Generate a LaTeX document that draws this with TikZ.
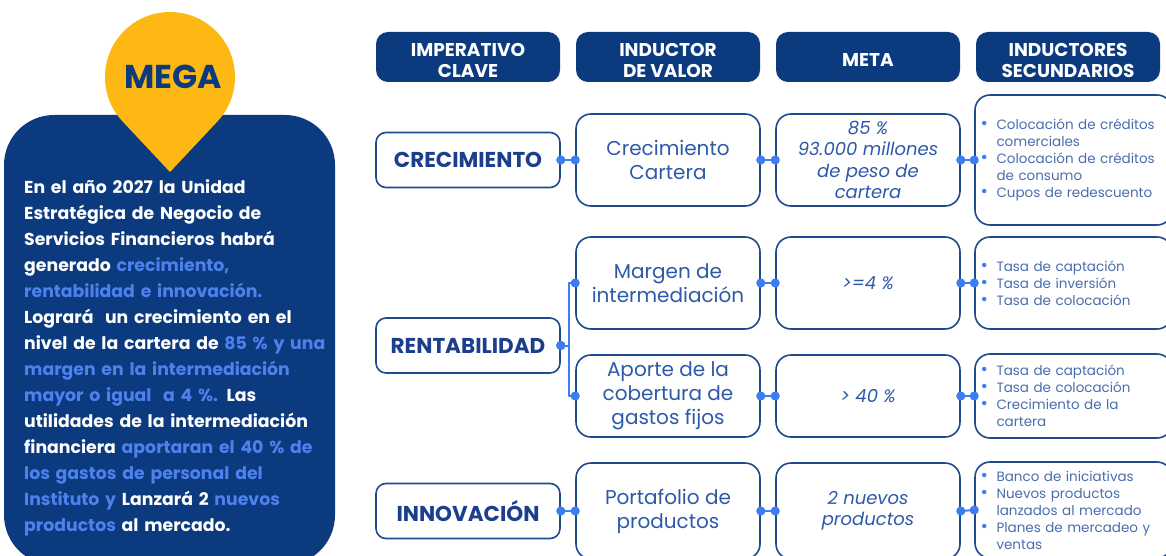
\documentclass[tikz,border=0pt]{standalone}
\usepackage{fontspec}
\setmainfont{Poppins}
\usetikzlibrary{arrows.meta,positioning,backgrounds}
\definecolor{megablue}{HTML}{0B3A7E}
\definecolor{megaedge}{HTML}{1F4A8C}
\definecolor{megatext}{HTML}{2D5AA8}
\definecolor{megabold}{HTML}{1B3F8C}
\definecolor{megadot}{HTML}{3C7DF2}
\definecolor{megalight}{HTML}{4F81EE}
\definecolor{megagrey}{HTML}{4A6DAF}
\definecolor{megagold}{HTML}{FDB813}
\newcommand{\hl}[1]{\textcolor{megalight}{#1}}
\newcommand{\bitem}[1]{\hangindent=16pt\hangafter=1\noindent
  \hbox to 16pt{\smash{\textcolor{megadot}{\fontsize{18}{17}\selectfont\textbullet}}\hss}#1\par}

\begin{document}
\begin{tikzpicture}[x=1pt,y=-1pt,line join=round,
  head/.style={fill=megablue,rounded corners=12pt,minimum width=184pt,minimum height=50pt},
  headtext/.style={text=white,align=center,font=\fontsize{18.5}{21.5}\selectfont\bfseries},
  keybox/.style={draw=megaedge,line width=1.6pt,rounded corners=10pt,fill=white,minimum width=184pt,
    minimum height=55pt,text=megabold,font=\fontsize{21.5}{24}\selectfont\bfseries},
  drvbox/.style={draw=megaedge,line width=1.6pt,rounded corners=15pt,minimum width=184pt,align=center,
    text=megatext,font=\fontsize{20}{24}\selectfont},
  goalbox/.style={drvbox,font=\fontsize{18}{21.5}\selectfont\itshape},
  secbox/.style={draw=megaedge,line width=1.6pt,rounded corners=15pt,text width=186pt,inner xsep=5.5pt,
    align=left,text=megagrey,font=\fontsize{13.5}{17}\selectfont},
  link/.style={megadot,line width=2pt,{Circle[length=9pt]}-{Circle[length=9pt]},
    shorten <=-4.5pt,shorten >=-4.5pt}]
\path[use as bounding box] (0,0) rectangle (1166,556);
\clip (0,0) rectangle (1166,556);
\fill[white] (0,0) rectangle (1166,556);

% mega
\fill[megablue,rounded corners=50pt] (4,115) rectangle (335,565);
\coordinate (pinc) at (170,77);
\coordinate (pint) at (170,172);
\fill[megagold] (pint) -- ([shift={(-43.2:65pt)}]pinc) arc[start angle=-43.2,end angle=223.2,radius=65pt] -- cycle;
\node[text=megablue,font=\fontsize{33}{33}\selectfont\bfseries] (mega) at (173,77) {MEGA};
\node[anchor=north west,inner sep=0pt,text width=320pt,align=left,text=white,
  font=\fontsize{17.3}{26}\selectfont\bfseries] (vision) at (24,179) {En el año 2027 la Unidad\\
  Estratégica de Negocio de\\
  Servicios Financieros habrá\\
  generado \hl{crecimiento,}\\
  \hl{rentabilidad e innovación.}\\
  Logrará \ un crecimiento en el\\
  nivel de la cartera de \hl{85 \% y una}\\
  \hl{margen en la intermediación}\\
  \hl{mayor o igual \ a 4 \%.} Las\\
  utilidades de la intermediación\\
  financiera \hl{aportaran el 40 \% de}\\
  \hl{los gastos de personal del}\\
  \hl{Instituto y} Lanzará 2 \hl{nuevos}\\
  \hl{productos} al mercado.};

% cabeceras
\foreach \x/\t [count=\i] in {468/{IMPERATIVO\\CLAVE},668/{INDUCTOR\\DE VALOR},868/META,1068/{INDUCTORES\\SECUNDARIOS}} {
  \node[head] (h\i) at (\x,57) {};
  \node[headtext] (ht\i) at ([yshift=-3.5pt]h\i.center) {\t};
}
\begin{scope}[on background layer]
  \foreach \i in {1,...,4} \fill[megablue] (h\i.west) rectangle (h\i.south east);
\end{scope}

% imperativos
\node[keybox] (imp1) at (468,160) {CRECIMIENTO};
\node[keybox] (imp2) at (468,345.5) {RENTABILIDAD};
\node[keybox] (imp3) at (468,511) {INNOVACIÓN};

% inductores de valor
\node[drvbox,minimum height=92pt] (drv1) at (668,160) {Crecimiento\\Cartera};
\node[drvbox,minimum height=92pt] (drv2) at (668,283) {Margen de\\intermediación};
\node[drvbox,minimum height=82pt] (drv3) at (668,396) {Aporte de la\\cobertura de\\gastos fijos};
\node[drvbox,minimum height=96pt] (drv4) at (668,511) {Portafolio de\\productos};

% metas
\node[goalbox,minimum height=92pt] (goal1) at (868,160) {85 \%\\93.000 millones\\de peso de\\cartera};
\node[goalbox,minimum height=92pt] (goal2) at (868,283) {>=4 \%};
\node[goalbox,minimum height=82pt] (goal3) at (868,396) {> 40 \%};
\node[goalbox,minimum height=96pt] (goal4) at (868,511) {2 nuevos\\productos};

% inductores secundarios
\node[secbox,minimum height=130pt] (sec1) at (1073.5,160) {\bitem{Colocación de créditos\newline comerciales}%
  \bitem{Colocación de créditos\newline de consumo}\bitem{Cupos de redescuento}};
\node[secbox,minimum height=92pt] (sec2) at (1073.5,283) {\bitem{Tasa de captación}%
  \bitem{Tasa de inversión}\bitem{Tasa de colocación}};
\node[secbox,minimum height=84pt] (sec3) at (1073.5,396) {\bitem{Tasa de captación}%
  \bitem{Tasa de colocación}\bitem{Crecimiento de la\newline cartera}};
\node[secbox,minimum height=96pt] (sec4) at (1073.5,510) {\bitem{Banco de iniciativas}%
  \bitem{Nuevos productos\newline lanzados al mercado}\bitem{Planes de mercadeo y\newline ventas}};

% enlaces
\draw[link] (imp1.east) -- (drv1.west);
\draw[link] (imp3.east) -- (drv4.west);
\coordinate (fork) at ([xshift=8pt]imp2.east);
\draw[link] (imp2.east) -- (fork) |- (drv2.west);
\draw[link] (imp2.east) -- (fork) |- (drv3.west);
\foreach \i in {1,...,4} {
  \draw[link] (drv\i.east) -- (goal\i.west);
  \draw[link] (goal\i.east) -- (sec\i.west);
}
\end{tikzpicture}
\end{document}
